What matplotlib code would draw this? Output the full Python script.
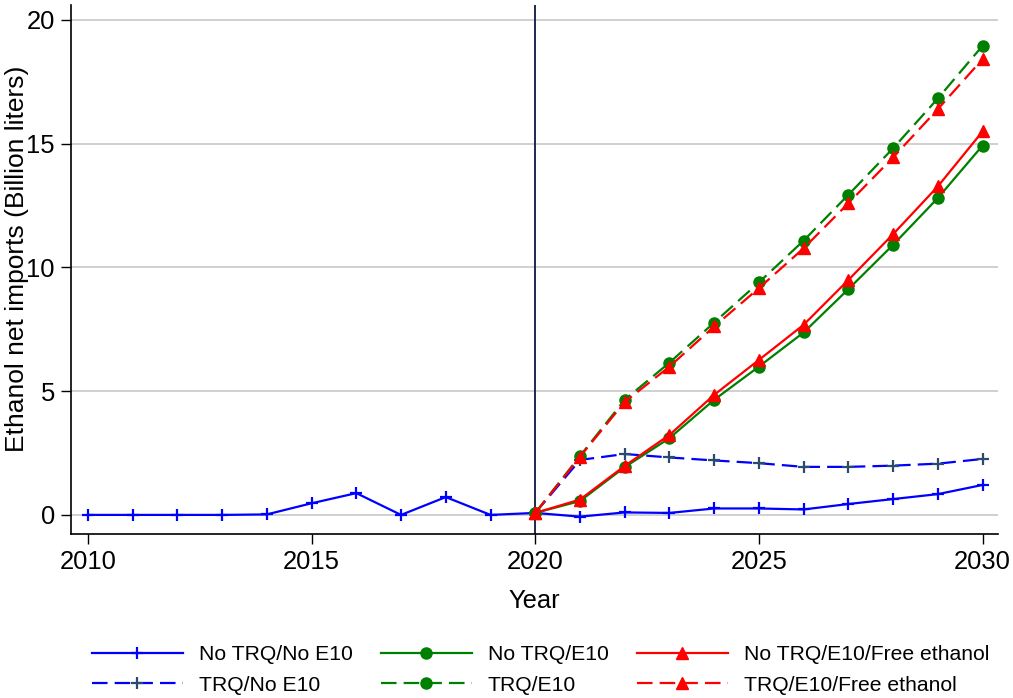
import matplotlib
matplotlib.use("Agg")
import matplotlib.pyplot as plt

plt.rcParams['font.family'] = ['Liberation Sans', 'DejaVu Sans']

years = list(range(2010, 2031))
proj_years = list(range(2020, 2031))

# Historical + baseline projection (no TRQ, no E10)
no_trq_no_e10 = [0.0, 0.0, 0.0, 0.0, 0.02, 0.47, 0.88, 0.0, 0.72, 0.0, 0.08,
                 -0.07, 0.10, 0.08, 0.26, 0.26, 0.22, 0.44, 0.64, 0.84, 1.21]
trq_no_e10 = [0.08, 2.22, 2.46, 2.32, 2.20, 2.09, 1.94, 1.94, 1.99, 2.07, 2.26]
no_trq_e10 = [0.08, 0.56, 1.93, 3.10, 4.65, 5.99, 7.37, 9.12, 10.91, 12.80, 14.92]
trq_e10 = [0.08, 2.38, 4.65, 6.15, 7.77, 9.39, 11.08, 12.93, 14.81, 16.82, 18.95]
no_trq_e10_free = [0.08, 0.62, 1.98, 3.23, 4.85, 6.26, 7.68, 9.49, 11.34, 13.27, 15.49]
trq_e10_free = [0.08, 2.35, 4.56, 5.99, 7.61, 9.16, 10.77, 12.59, 14.44, 16.39, 18.41]

labels = ["No TRQ/No E10", "TRQ/No E10", "No TRQ/E10", "TRQ/E10",
          "No TRQ/E10/Free ethanol", "TRQ/E10/Free ethanol"]

fig = plt.figure(figsize=(10.13, 6.98), dpi=100)
ax = fig.add_axes([0.070, 0.235, 0.915, 0.758])

dash = (0, (7, 3.2))
lw = 1.6

ax.axvline(2020, color='#1c2a4f', lw=1.4, zorder=1)

h1, = ax.plot(years, no_trq_no_e10, color='#0000ff', lw=lw, marker='+', ms=9, mew=1.6)
h2, = ax.plot(proj_years, trq_no_e10, color='#0000ff', lw=lw, ls=dash, marker='+', ms=9,
              mew=1.6, mec='#2a4a6e')
h3, = ax.plot(proj_years, no_trq_e10, color='#008000', lw=lw, marker='o', ms=8)
h4, = ax.plot(proj_years, trq_e10, color='#008000', lw=lw, ls=dash, marker='o', ms=8)
h5, = ax.plot(proj_years, no_trq_e10_free, color='#ff0000', lw=lw, marker='^', ms=9)
h6, = ax.plot(proj_years, trq_e10_free, color='#ff0000', lw=lw, ls=dash, marker='^', ms=9)

ax.set_xlim(2009.62, 2030.34)
ax.set_ylim(-0.77, 20.6)
ax.set_xticks([2010, 2015, 2020, 2025, 2030])
ax.set_yticks([0, 5, 10, 15, 20])
ax.tick_params(labelsize=18.4, length=7.5, width=1.0, color='black', pad=4)
ax.grid(axis='y', color='#c8c8c8', lw=1.2)
ax.set_axisbelow(True)
for s in ['top', 'right']:
    ax.spines[s].set_visible(False)
for s in ['left', 'bottom']:
    ax.spines[s].set_linewidth(1.2)

ax.set_xlabel("Year", fontsize=18.4, labelpad=11)
ax.set_ylabel("Ethanol net imports (Billion liters)", fontsize=19)
ax.yaxis.set_label_coords(-0.045, 0.52)

fig.legend([h1, h2, h3, h4, h5, h6], labels, ncol=3, loc='upper left',
           bbox_to_anchor=(92 / 1013, 1 - 645 / 698), frameon=False, fontsize=15.2,
           borderpad=0, borderaxespad=0,
           handlelength=4.3, columnspacing=1.35, labelspacing=0.55, handletextpad=0.75)

fig.savefig("out.png", dpi=100)
